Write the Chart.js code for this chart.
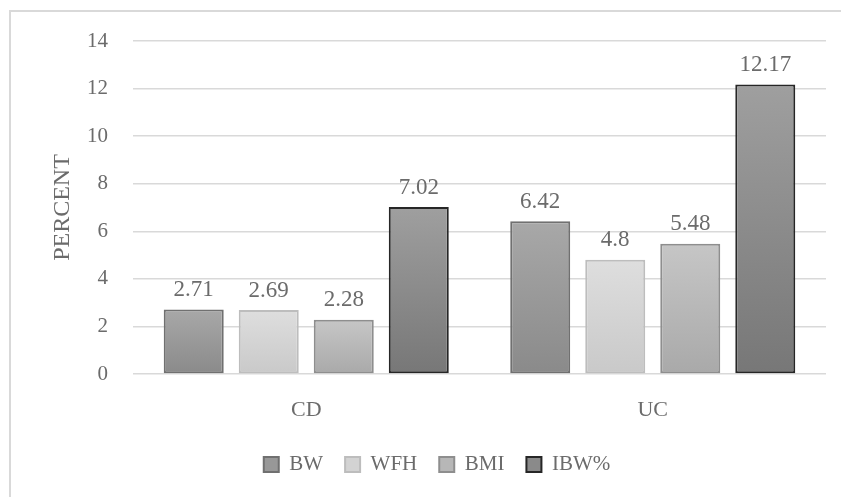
<!DOCTYPE html>
<html>
<head>
<meta charset="utf-8">
<script src="https://cdn.jsdelivr.net/npm/chart.js@4.4.0/dist/chart.umd.min.js"></script>
<style>
  html, body { margin: 0; padding: 0; background: #fff; }
  #wrap { width: 841px; height: 497px; }
</style>
</head>
<body>
<div id="wrap"><canvas id="chart" width="841" height="497"></canvas></div>
<script>
// Chart data
const groups = ['CD', 'UC'];
const seriesNames = ['BW', 'WFH', 'BMI', 'IBW%'];
const bwValues = [2.71, 6.42];
const wfhValues = [2.69, 4.8];
const bmiValues = [2.28, 5.48];
const ibwValues = [7.02, 12.17];
const yTicks = [0, 2, 4, 6, 8, 10, 12, 14];

const FONT = "'Liberation Serif', 'DejaVu Serif', serif";
const TEXT = '#6b6b6b';

// Per-bar vertical gradient (lighter top, darker bottom)
function gradientFill(top, bottom) {
    return (ctx) => {
        if (ctx.type !== 'data') return top;
        const chart = ctx.chart;
        const yScale = chart.scales.y;
        if (!yScale || !chart.chartArea) return top;
        const y0 = yScale.getPixelForValue(ctx.raw);
        const y1 = yScale.getPixelForValue(0);
        if (!isFinite(y0) || !isFinite(y1) || y0 === y1) return top;
        const g = chart.ctx.createLinearGradient(0, y0, 0, y1);
        g.addColorStop(0, top);
        g.addColorStop(1, bottom);
        return g;
    };
}

// Frame line at top and left like the source picture
const framePlugin = {
    id: 'frame',
    beforeDraw(chart) {
        const ctx = chart.ctx;
        ctx.save();
        ctx.strokeStyle = '#d9d9d9';
        ctx.lineWidth = 2;
        ctx.beginPath();
        ctx.moveTo(10, 497);
        ctx.lineTo(10, 11);
        ctx.lineTo(841, 11);
        ctx.stroke();
        ctx.restore();
    }
};

// Value labels above each bar
const valueLabels = {
    id: 'valueLabels',
    afterDatasetsDraw(chart) {
        const ctx = chart.ctx;
        ctx.save();
        ctx.font = '23px ' + FONT;
        ctx.fillStyle = TEXT;
        ctx.textAlign = 'center';
        ctx.textBaseline = 'bottom';
        chart.data.datasets.forEach((ds, i) => {
            const meta = chart.getDatasetMeta(i);
            meta.data.forEach((bar, j) => {
                ctx.fillText(String(ds.data[j]), bar.x, bar.y - 8);
            });
        });
        ctx.restore();
    }
};

const datasets = [
    { label: seriesNames[0], data: bwValues, backgroundColor: gradientFill('#a8a8a8', '#8a8a8a'), borderColor: '#707070' },
    { label: seriesNames[1], data: wfhValues, backgroundColor: gradientFill('#dedede', '#c9c9c9'), borderColor: '#bdbdbd' },
    { label: seriesNames[2], data: bmiValues, backgroundColor: gradientFill('#c6c6c6', '#a9a9a9'), borderColor: '#8e8e8e' },
    { label: seriesNames[3], data: ibwValues, backgroundColor: gradientFill('#9f9f9f', '#777777'), borderColor: '#262626' }
].map(ds => Object.assign(ds, {
    borderWidth: 2,
    borderSkipped: false,
    barPercentage: 0.8,
    categoryPercentage: 0.866
}));

new Chart(document.getElementById('chart'), {
    type: 'bar',
    data: { labels: groups, datasets: datasets },
    plugins: [framePlugin, valueLabels],
    options: {
        responsive: false,
        animation: false,
        layout: { padding: { left: 48, right: 15, top: 41, bottom: 12 } },
        scales: {
            x: {
                grid: { display: false, drawTicks: false },
                border: { display: false },
                ticks: { color: TEXT, font: { family: FONT, size: 22 }, padding: 23 },
                afterFit(scale) { scale.height = 58; }
            },
            y: {
                min: 0,
                max: 14,
                afterBuildTicks(scale) { scale.ticks = yTicks.map(v => ({ value: v })); },
                grid: { color: '#d9d9d9', lineWidth: 1.5, drawTicks: false },
                border: { display: false },
                ticks: { color: TEXT, font: { family: FONT, size: 21 }, padding: 25 },
                title: {
                    display: true,
                    text: 'PERCENT',
                    color: TEXT,
                    font: { family: FONT, size: 24 },
                    padding: 0
                },
                afterFit(scale) { scale.width = 85; }
            }
        },
        plugins: {
            legend: {
                position: 'bottom',
                labels: {
                    color: TEXT,
                    font: { family: FONT, size: 21 },
                    boxWidth: 15,
                    boxHeight: 15,
                    padding: 22,
                    generateLabels(chart) {
                        const fills = ['#989898', '#d3d3d3', '#b7b7b7', '#8a8a8a'];
                        return chart.data.datasets.map((ds, i) => ({
                            text: ds.label,
                            fillStyle: fills[i],
                            strokeStyle: ds.borderColor,
                            lineWidth: 2,
                            fontColor: TEXT,
                            datasetIndex: i,
                            hidden: false
                        }));
                    }
                }
            },
            tooltip: { enabled: false }
        }
    }
});
</script>
</body>
</html>
